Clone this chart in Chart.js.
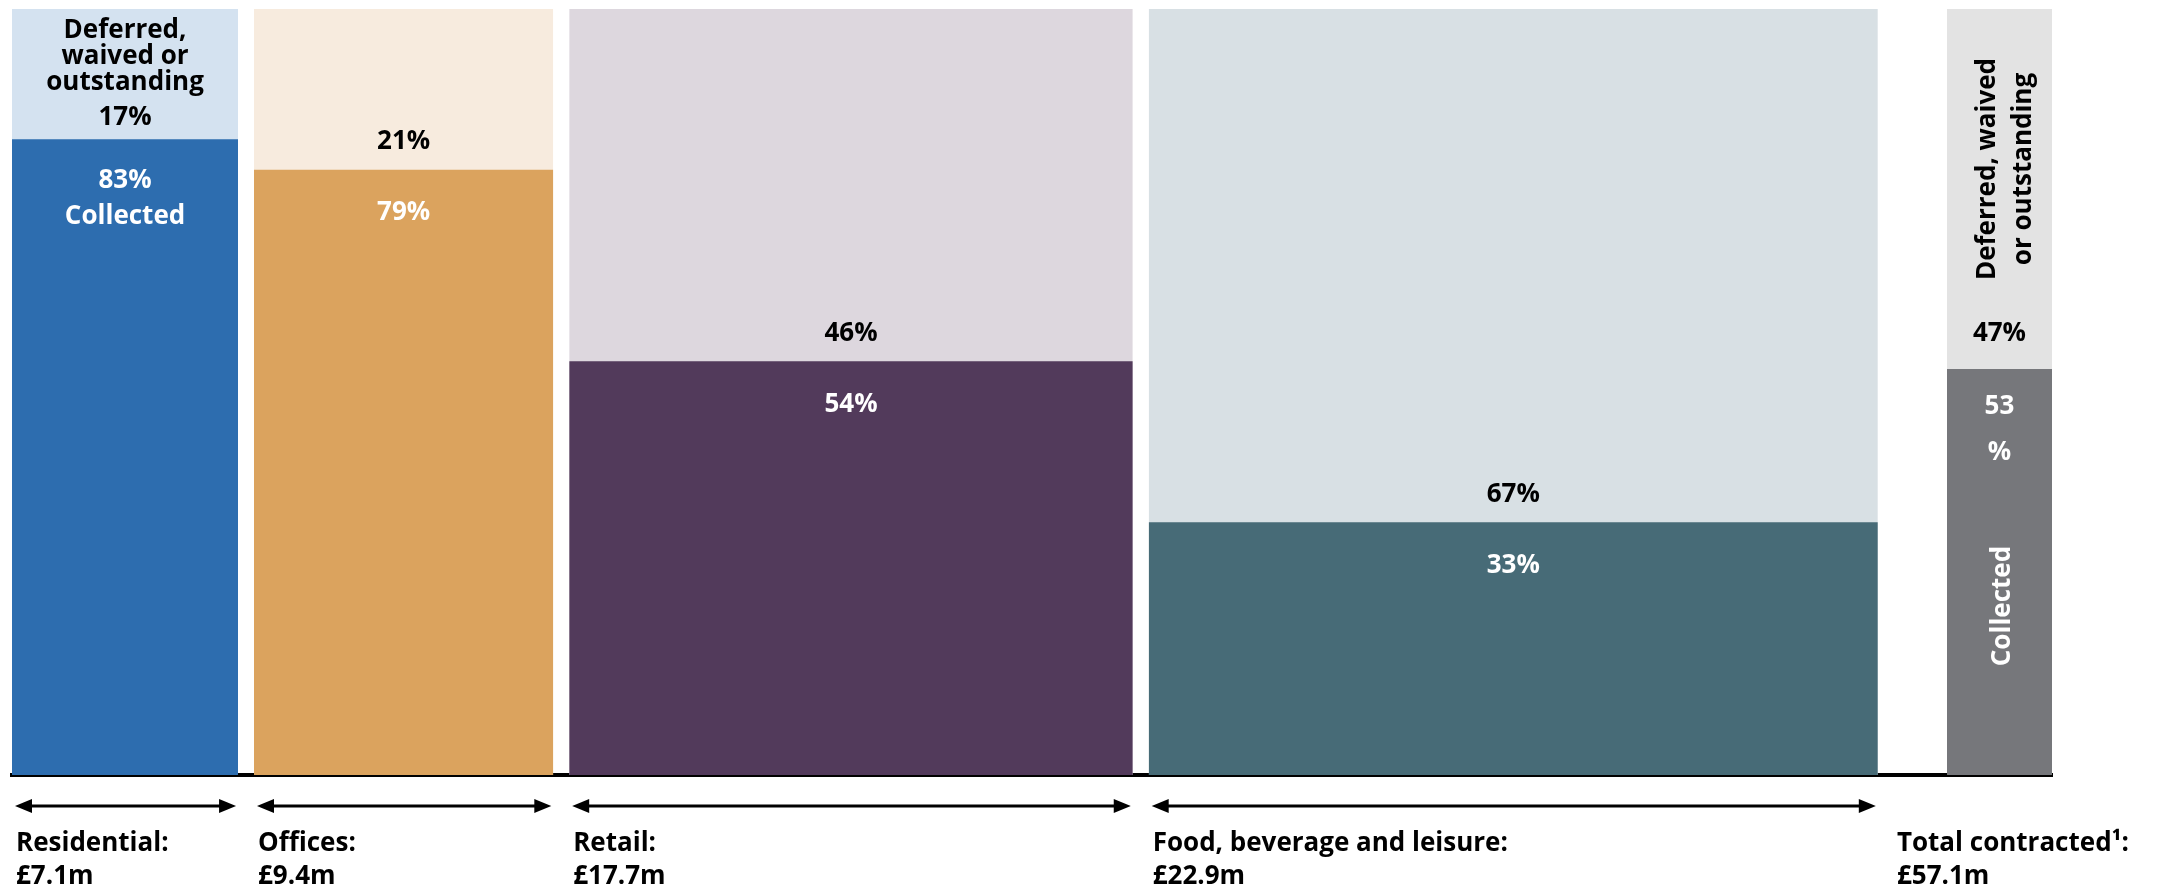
<!DOCTYPE html>
<html>
<head>
<meta charset="utf-8">
<script src="https://cdn.jsdelivr.net/npm/chart.js@4.4.1/dist/chart.umd.min.js"></script>
<style>
  html, body { margin: 0; padding: 0; background: #fff; }
</style>
</head>
<body>
<canvas id="rentChart" width="2160" height="888"></canvas>
<script>
// Rent collected vs deferred by sector; column width = contracted rent (£m)
const sectors = ['Residential', 'Offices', 'Retail', 'Food, beverage and leisure'];
const contracted = [7.1, 9.4, 17.7, 22.9];
const collectedPct = [83, 79, 54, 33];
const outstandingPct = [17, 21, 46, 67];
const totalContracted = 57.1;
const totalCollectedPct = 53;
const totalOutstandingPct = 47;

const darkColours = ['#2d6daf', '#dba35e', '#523a5b', '#476b77'];
const lightColours = ['#d4e2f0', '#f7ebde', '#ddd7de', '#d8e0e4'];
const totalDark = '#76777b';
const totalLight = '#e3e3e3';

// spacing along the x axis, in £m units
const GAP = 0.5;
const TOTAL_GAP = 2.17;
const TOTAL_WIDTH = 3.3;

const FONT = 'bold 26px "Open Sans"';

// x extent of each column
const spans = [];
let cursor = 0;
contracted.forEach(v => { spans.push([cursor, cursor + v]); cursor += v + GAP; });
const totalStart = cursor - GAP + TOTAL_GAP;
const totalSpan = [totalStart, totalStart + TOTAL_WIDTH];

// a column is a flat two-point line filled down to zero
function column(span, value, colour, order) {
  return {
    data: [{ x: span[0], y: value }, { x: span[1], y: value }],
    backgroundColor: colour,
    borderWidth: 0,
    pointRadius: 0,
    pointHoverRadius: 0,
    fill: 'origin',
    order: order
  };
}

const datasets = [];
sectors.forEach((s, i) => {
  datasets.push(column(spans[i], collectedPct[i] + outstandingPct[i], lightColours[i], 2));
  datasets.push(column(spans[i], collectedPct[i], darkColours[i], 1));
});
datasets.push(column(totalSpan, totalCollectedPct + totalOutstandingPct, totalLight, 2));
datasets.push(column(totalSpan, totalCollectedPct, totalDark, 1));

function drawArrow(ctx, x0, x1, yy) {
  const head = 17, half = 7;
  ctx.lineWidth = 3;
  ctx.beginPath();
  ctx.moveTo(x0 + head - 2, yy);
  ctx.lineTo(x1 - head + 2, yy);
  ctx.stroke();
  ctx.beginPath();
  ctx.moveTo(x0, yy);
  ctx.lineTo(x0 + head, yy - half);
  ctx.lineTo(x0 + head, yy + half);
  ctx.closePath();
  ctx.fill();
  ctx.beginPath();
  ctx.moveTo(x1, yy);
  ctx.lineTo(x1 - head, yy - half);
  ctx.lineTo(x1 - head, yy + half);
  ctx.closePath();
  ctx.fill();
}

function rotatedText(ctx, text, cx, cy) {
  ctx.save();
  ctx.translate(cx, cy);
  ctx.rotate(-Math.PI / 2);
  ctx.fillText(text, 0, 0);
  ctx.restore();
}

const labelPlugin = {
  id: 'rentLabels',
  afterDatasetsDraw(chart) {
    const { ctx, scales: { x, y }, chartArea } = chart;
    ctx.save();
    ctx.font = FONT;
    ctx.textAlign = 'center';
    ctx.textBaseline = 'middle';
    ctx.fillStyle = '#000';
    ctx.strokeStyle = '#000';

    sectors.forEach((name, i) => {
      const left = x.getPixelForValue(spans[i][0]);
      const right = x.getPixelForValue(spans[i][1]);
      const cx = (left + right) / 2;
      const split = y.getPixelForValue(collectedPct[i]);

      ctx.textAlign = 'center';
      if (i === 0) {
        ctx.fillStyle = '#000';
        ctx.fillText('Deferred,', cx, split - 109);
        ctx.fillText('waived or', cx, split - 83);
        ctx.fillText('outstanding', cx, split - 57);
        ctx.fillText(outstandingPct[i] + '%', cx, split - 22);
        ctx.fillStyle = '#fff';
        ctx.fillText(collectedPct[i] + '%', cx, split + 41);
        ctx.fillText('Collected', cx, split + 77);
      } else {
        ctx.fillStyle = '#000';
        ctx.fillText(outstandingPct[i] + '%', cx, split - 28);
        ctx.fillStyle = '#fff';
        ctx.fillText(collectedPct[i] + '%', cx, split + 43);
      }

      // width marker and sector name under the axis
      ctx.fillStyle = '#000';
      drawArrow(ctx, left + 3, right - 2, chartArea.bottom + 31);
      ctx.textAlign = 'left';
      ctx.fillText(name + ':', left + 4, chartArea.bottom + 69);
      ctx.fillText('£' + contracted[i].toFixed(1) + 'm', left + 4, chartArea.bottom + 102);
    });

    // total column
    const tLeft = x.getPixelForValue(totalSpan[0]);
    const tRight = x.getPixelForValue(totalSpan[1]);
    const tcx = (tLeft + tRight) / 2;
    const tSplit = y.getPixelForValue(totalCollectedPct);
    const tTop = y.getPixelForValue(totalCollectedPct + totalOutstandingPct);

    ctx.textAlign = 'center';
    ctx.fillStyle = '#000';
    rotatedText(ctx, 'Deferred, waived', tcx - 12, tTop + 160);
    rotatedText(ctx, 'or outstanding', tcx + 24, tTop + 160);
    ctx.fillText(totalOutstandingPct + '%', tcx, tSplit - 35);
    ctx.fillStyle = '#fff';
    ctx.fillText(String(totalCollectedPct), tcx, tSplit + 38);
    ctx.fillText('%', tcx, tSplit + 84);
    rotatedText(ctx, 'Collected', tcx + 3, tSplit + 237);

    ctx.fillStyle = '#000';
    ctx.textAlign = 'left';
    ctx.fillText('Total contracted\u00b9:', tLeft - 50, chartArea.bottom + 69);
    ctx.fillText('£' + totalContracted.toFixed(1) + 'm', tLeft - 50, chartArea.bottom + 102);
    ctx.restore();
  }
};

new Chart(document.getElementById('rentChart'), {
  type: 'line',
  data: { datasets: datasets },
  options: {
    responsive: false,
    animation: false,
    events: [],
    layout: { padding: { left: 12, right: 108, top: 9, bottom: 113 } },
    plugins: { legend: { display: false }, tooltip: { enabled: false } },
    scales: {
      x: {
        type: 'linear',
        min: 0,
        max: totalSpan[1],
        grid: { display: false, drawTicks: false },
        ticks: { display: false },
        border: { display: true, color: '#000', width: 4 }
      },
      y: {
        min: 0,
        max: 100,
        display: false
      }
    }
  },
  plugins: [labelPlugin]
});
</script>
</body>
</html>
